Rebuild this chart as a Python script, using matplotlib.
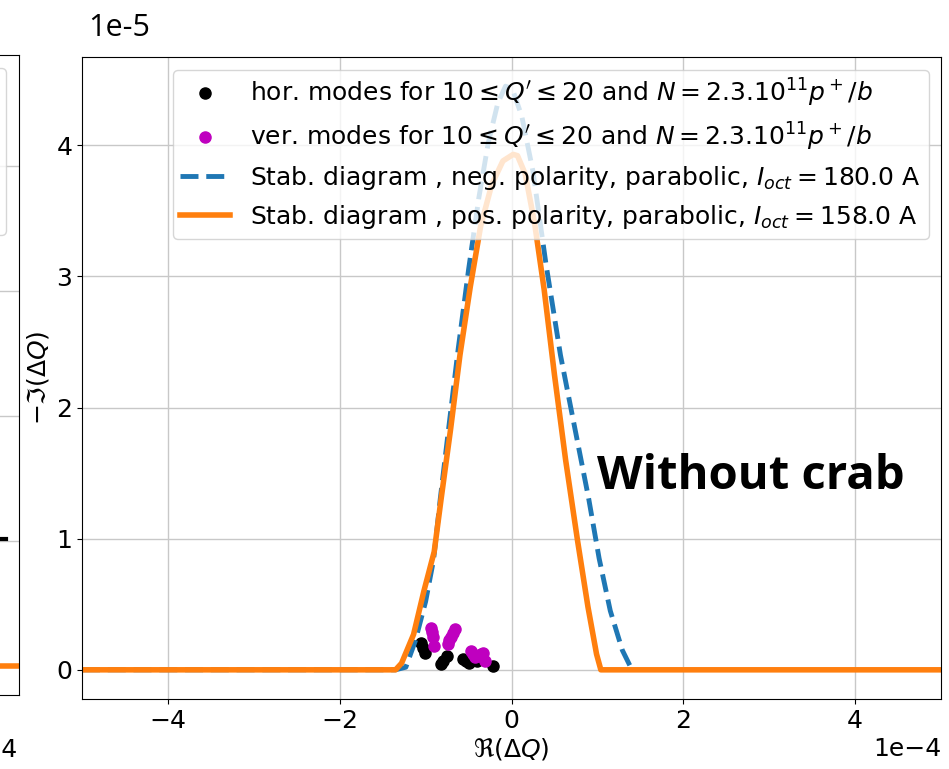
import numpy as np
import matplotlib
matplotlib.use('Agg')
import matplotlib.pyplot as plt

plt.rcParams['font.size'] = 18
plt.rcParams['font.family'] = ['DejaVu Sans']
plt.rcParams['mathtext.fontset'] = 'dejavusans'

# stability diagram, negative polarity (Re in 1e-4, -Im in 1e-5)
neg_re = [-5.0, -1.35, -1.23, -1.12, -1.0, -0.907, -0.83, -0.73, -0.62, -0.50,
          -0.38, -0.27, -0.16, -0.07, 0.01, 0.12, 0.25, 0.40, 0.57, 0.75,
          0.90, 1.02, 1.15, 1.29, 1.38]
neg_im = [0.0, 0.0, 0.02, 0.22, 0.52, 0.84, 1.30, 1.85, 2.45, 3.05,
          3.60, 4.02, 4.32, 4.45, 4.43, 4.22, 3.80, 3.10, 2.40, 1.80,
          1.30, 0.85, 0.45, 0.15, 0.03]

# stability diagram, positive polarity
pos_re = [-5.0, -1.35, -1.28, -1.14, -1.02, -0.90, -0.82, -0.71, -0.60, -0.48,
          -0.36, -0.23, -0.10, 0.02, 0.07, 0.16, 0.27, 0.38, 0.50, 0.63,
          0.77, 0.89, 0.99, 1.04, 1.10, 5.0]
pos_im = [0.0, 0.0, 0.05, 0.27, 0.60, 0.90, 1.30, 1.83, 2.40, 2.92,
          3.38, 3.70, 3.88, 3.93, 3.92, 3.78, 3.40, 2.90, 2.25, 1.60,
          0.98, 0.48, 0.12, 0.0, 0.0, 0.0]

# horizontal modes
hor_re = [-1.058, -1.035, -1.012, -0.826, -0.80, -0.756, -0.570, -0.53,
          -0.500, -0.407, -0.221]
hor_im = [0.207, 0.17, 0.130, 0.046, 0.07, 0.107, 0.084, 0.07,
          0.054, 0.069, 0.031]

# vertical modes
ver_re = [-0.942, -0.930, -0.919, -0.907, -0.744, -0.727, -0.709, -0.686,
          -0.663, -0.477, -0.450, -0.430, -0.372, -0.350, -0.326, -0.314]
ver_im = [0.321, 0.285, 0.252, 0.184, 0.199, 0.225, 0.252, 0.283,
          0.314, 0.145, 0.120, 0.099, 0.107, 0.118, 0.130, 0.069]

# visible remains of the neighbouring panel
left_re = [-5.0, 5.0]
left_im = [0.0, 0.0]
left_mark_re = [4.3, 4.85]
left_mark_im = [1.02, 1.02]

lab_hor = r"hor. modes for $10 \leq Q' \leq 20$ and $N=2.3.10^{11}p^+/b$"
lab_ver = r"ver. modes for $10 \leq Q' \leq 20$ and $N=2.3.10^{11}p^+/b$"
lab_neg = r"Stab. diagram , neg. polarity, parabolic, $I_{oct}=180.0$ A"
lab_pos = r"Stab. diagram , pos. polarity, parabolic, $I_{oct}=158.0$ A"

fig = plt.figure(figsize=(9.49, 7.69), dpi=100)

# neighbouring panel, mostly outside the picture (only its right edge shows)
ax0 = fig.add_axes([-0.9, 1 - 695 / 769, 0.92, (695 - 55) / 769])
ax0.plot(np.array(left_re) * 1e-4, np.array(left_im) * 1e-5, color='#ff7f0e', lw=4)
ax0.plot(np.array(left_mark_re) * 1e-4, np.array(left_mark_im) * 1e-5, color='k', lw=3)
h1, = ax0.plot([], [], 'o', color='k', ms=8)
h2, = ax0.plot([], [], 'o', color='m', ms=8)
h3, = ax0.plot([], [], '--', color='#1f77b4', lw=3.5)
h4, = ax0.plot([], [], '-', color='#ff7f0e', lw=4)
ax0.grid(True, color='#c8c8c8', lw=1)
ax0.set_xlim(-5e-4, 5e-4)
ax0.set_ylim(-0.232e-5, 4.888e-5)
ax0.set_yticks(np.arange(0, 5) * 1e-5)
ax0.set_xticks(np.arange(-4, 5, 2) * 1e-4)
ax0.tick_params(labelleft=False, labelbottom=False)
ax0.legend([h1, h2, h3, h4], [' '] * 4, loc='upper right', fontsize=18,
           borderpad=0.3, labelspacing=0.75)
fig.text(18 / 949, 1 - 757 / 769, '1e\u22124', fontsize=18, ha='right', va='baseline')

# main panel
ax = fig.add_axes([82 / 949, 1 - 699 / 769, (941 - 82) / 949, (699 - 57) / 769])
ax.plot(np.array(hor_re) * 1e-4, np.array(hor_im) * 1e-5, 'o', color='k',
        ms=8, label=lab_hor)
ax.plot(np.array(ver_re) * 1e-4, np.array(ver_im) * 1e-5, 'o', color='m',
        ms=8, label=lab_ver)
ax.plot(np.array(neg_re) * 1e-4, np.array(neg_im) * 1e-5, '--',
        color='#1f77b4', lw=3.5, label=lab_neg)
ax.plot(np.array(pos_re) * 1e-4, np.array(pos_im) * 1e-5, '-',
        color='#ff7f0e', lw=4, label=lab_pos)
ax.grid(True, color='#c8c8c8', lw=1)
ax.set_xlim(-5e-4, 5e-4)
ax.set_ylim(-0.2225e-5, 4.6725e-5)
ax.set_xticks(np.arange(-4, 5, 2) * 1e-4)
ax.set_yticks(np.arange(0, 5) * 1e-5)
ax.ticklabel_format(axis='both', style='sci', scilimits=(0, 0))
ax.set_xlabel(r'$\Re(\Delta Q)$', labelpad=2)
ax.set_ylabel(r'$-\Im(\Delta Q)$', labelpad=4)
ax.legend(loc='upper right', fontsize=18, borderpad=0.3, labelspacing=0.45)
ax.yaxis.get_offset_text().set_visible(False)

fig.text(88 / 949, 1 - 36 / 769, '1e-5', fontsize=22, family='Open Sans',
         ha='left', va='baseline')
fig.text(597 / 949, 1 - 489 / 769, 'Without crab', fontsize=34,
         family='Open Sans', fontweight='bold', ha='left', va='baseline')

fig.savefig('out.png', dpi=100)
